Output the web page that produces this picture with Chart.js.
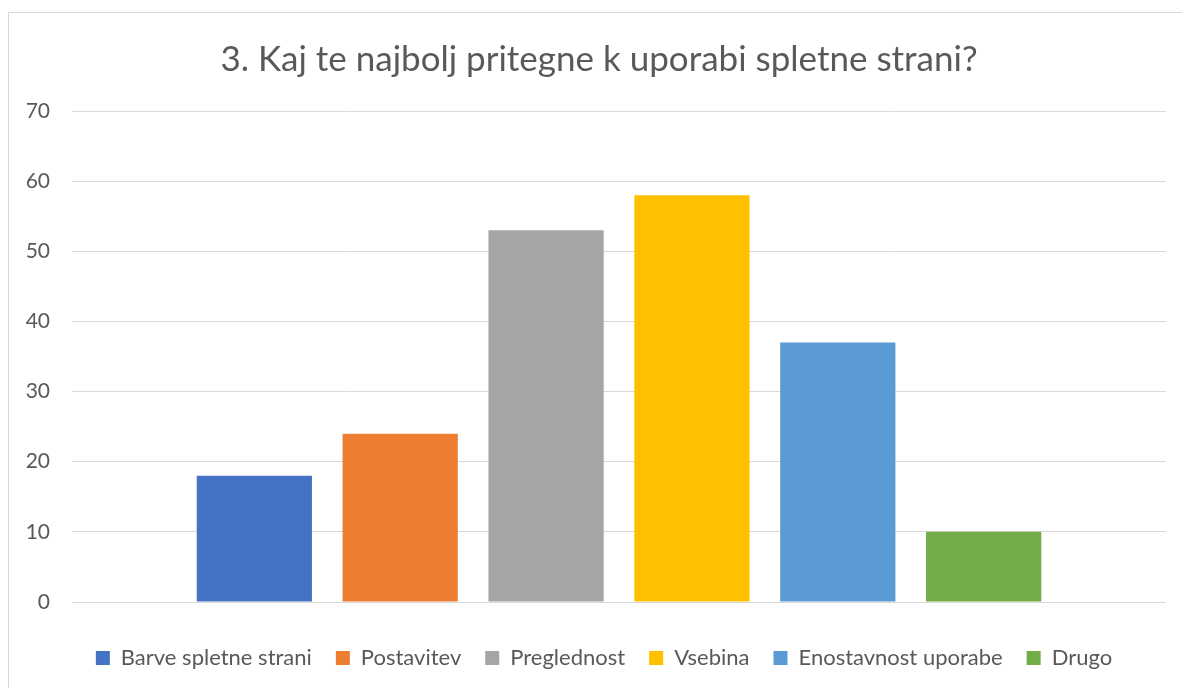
<!DOCTYPE html>
<html>
<head>
<meta charset="utf-8">
<script src="https://cdn.jsdelivr.net/npm/chart.js@4/dist/chart.umd.min.js"></script>
<style>
    body { margin: 0; background: #fff; overflow: hidden; }
    #wrap { position: relative; width: 1182px; height: 688px; overflow: hidden; }
    #frame { position: absolute; left: 8px; top: 12px; width: 1300px; height: 800px; border: 1px solid #d9d9d9; box-sizing: border-box; }
    canvas { position: absolute; left: 0; top: 0; }
</style>
</head>
<body>
<div id="wrap">
    <div id="frame"></div>
    <canvas id="myChart" width="1182" height="688"></canvas>
</div>
<script>
const titleText = '3. Kaj te najbolj pritegne k uporabi spletne strani?';
const categories = ['Barve spletne strani', 'Postavitev', 'Preglednost', 'Vsebina', 'Enostavnost uporabe', 'Drugo'];
const values = [18, 24, 53, 58, 37, 10];
const yTicks = [0, 10, 20, 30, 40, 50, 60, 70];

const palette = ['#4472C4', '#ED7D31', '#A5A5A5', '#FFC000', '#5B9BD5', '#70AD47'];
const textColor = '#595959';
const fontFamily = 'Lato, "Open Sans", sans-serif';

// Excel centres title/legend slightly right of the plot, nudge them over
const nudgeBoxes = {
    id: 'nudgeBoxes',
    afterLayout(chart) {
        if (chart.titleBlock) {
            chart.titleBlock.left += 5;
            chart.titleBlock.right += 5;
        }
        if (chart.legend) {
            chart.legend.left += 10;
            chart.legend.right += 10;
        }
    }
};

function renderChart() {
    const ctx = document.getElementById('myChart');

    let datasets = [];
    for (let i = 0; i < categories.length; i++) {
        datasets.push({
            label: categories[i],
            data: [values[i]],
            backgroundColor: palette[i],
            borderWidth: 0
        });
    }

    new Chart(ctx, {
        type: 'bar',
        data: {
            labels: [''],
            datasets: datasets
        },
        plugins: [nudgeBoxes],
        options: {
            responsive: false,
            animation: false,
            datasets: {
                bar: { barPercentage: 0.79, categoryPercentage: 0.8 }
            },
            layout: {
                padding: { top: 13, right: 16, bottom: 9, left: 22 }
            },
            plugins: {
                title: {
                    display: true,
                    text: titleText,
                    color: textColor,
                    font: { family: fontFamily, size: 35, weight: 'normal', lineHeight: 1.2 },
                    padding: { top: 26, bottom: 30 }
                },
                legend: {
                    position: 'bottom',
                    labels: {
                        color: textColor,
                        font: { family: fontFamily, size: 22 },
                        boxWidth: 14,
                        boxHeight: 14,
                        padding: 24
                    }
                },
                tooltip: { enabled: false }
            },
            scales: {
                x: {
                    grid: { display: false },
                    border: { display: false },
                    ticks: { display: false },
                    afterFit: (scale) => { scale.height = 21; }
                },
                y: {
                    min: yTicks[0],
                    max: yTicks[yTicks.length - 1],
                    afterBuildTicks: (scale) => { scale.ticks = yTicks.map(v => ({ value: v })); },
                    afterFit: (scale) => { scale.width = 50; },
                    grid: { color: '#d9d9d9', lineWidth: 1, drawTicks: false },
                    border: { display: false },
                    ticks: {
                        color: textColor,
                        padding: 22,
                        font: { family: fontFamily, size: 21 }
                    }
                }
            }
        }
    });
}

renderChart();
</script>
</body>
</html>
